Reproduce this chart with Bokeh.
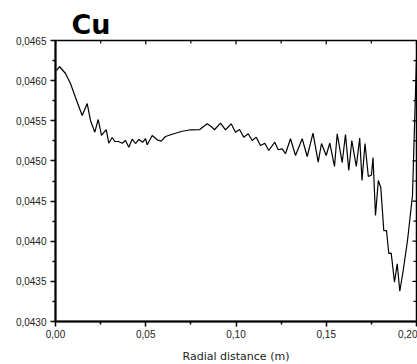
from bokeh.plotting import figure
from bokeh.models import FixedTicker, CustomJSTickFormatter
from bokeh.embed import file_html
from bokeh.resources import INLINE

title_text = "Cu"
x_label = "Radial distance (m)"

radial = [0.0005, 0.00222, 0.00554, 0.00831, 0.01108, 0.01479, 0.01756, 0.01939, 0.02177, 0.02366,
          0.02548, 0.02809, 0.02953, 0.03141, 0.03285, 0.03490, 0.03695, 0.03878, 0.04061, 0.04249,
          0.04432, 0.04615, 0.04837, 0.04986, 0.05080, 0.05357, 0.05634, 0.05856, 0.06094, 0.06554,
          0.07019, 0.07479, 0.07994, 0.08404, 0.08626, 0.08809, 0.09141, 0.09418, 0.09734, 0.09972,
          0.10194, 0.10432, 0.10676, 0.10898, 0.11119, 0.11357, 0.11596, 0.11817, 0.12149, 0.12338,
          0.12560, 0.12742, 0.13019, 0.13296, 0.13667, 0.13945, 0.14266, 0.14554, 0.14737, 0.14997,
          0.15197, 0.15457, 0.15607, 0.15884, 0.16066, 0.16249, 0.16416, 0.16665, 0.16853, 0.16981,
          0.17147, 0.17330, 0.17507, 0.17590, 0.17729, 0.17884, 0.18022, 0.18188, 0.18338, 0.18465,
          0.18598, 0.18781, 0.18931, 0.19075, 0.19263, 0.19501, 0.19778, 0.2000]
cu_value = [0.046126, 0.046176, 0.046089, 0.045964, 0.045790, 0.045566, 0.045715, 0.045504, 0.045358, 0.045516,
            0.045317, 0.045391, 0.045221, 0.045292, 0.045242, 0.045242, 0.045221, 0.045254, 0.045171, 0.045271,
            0.045217, 0.045267, 0.045233, 0.045279, 0.045201, 0.045317, 0.045263, 0.045246, 0.045304, 0.045338,
            0.045370, 0.045388, 0.045391, 0.045462, 0.045429, 0.045388, 0.045470, 0.045388, 0.045462, 0.045358,
            0.045391, 0.045296, 0.045338, 0.045254, 0.045296, 0.045192, 0.045221, 0.045130, 0.045233, 0.045139,
            0.045151, 0.045089, 0.045276, 0.045068, 0.045276, 0.045055, 0.045345, 0.044984, 0.045217, 0.045068,
            0.045223, 0.044931, 0.045338, 0.044980, 0.045329, 0.044881, 0.045254, 0.044931, 0.045286, 0.044756,
            0.045217, 0.044806, 0.044825, 0.045043, 0.044320, 0.044756, 0.044669, 0.044133, 0.044133, 0.043847,
            0.043851, 0.043489, 0.043719, 0.043377, 0.043635, 0.044009, 0.044569, 0.046276]

x_ticks = [0.0, 0.05, 0.10, 0.15, 0.20]
x_minor = [0.025, 0.075, 0.125, 0.175]
y_ticks = [0.0430, 0.0435, 0.0440, 0.0445, 0.0450, 0.0455, 0.0460, 0.0465]
y_minor = [0.04325, 0.04375, 0.04425, 0.04475, 0.04525, 0.04575, 0.04625]

x_lo, x_hi = 0.0, 0.2
y_lo, y_hi = 0.0430, 0.0465
fw, fh = 361, 281

p = figure(frame_width=fw, frame_height=fh, x_range=(x_lo, x_hi), y_range=(y_lo, y_hi),
           output_backend="svg", toolbar_location=None,
           min_border_left=55, min_border_right=1, min_border_top=40, min_border_bottom=43,
           background_fill_color="white", border_fill_color="white")
p.grid.visible = False
p.outline_line_color = "black"
p.outline_line_width = 1.5

p.title.text = title_text
p.title.text_font = "DejaVu Sans"
p.title.text_font_size = "27px"
p.title.text_font_style = "bold"
p.title.text_color = "black"
p.title.align = "left"
p.title.offset = 16
p.title.standoff = 1

xfmt = CustomJSTickFormatter(code="return tick.toFixed(2).replace('.', ',');")
yfmt = CustomJSTickFormatter(code="return tick.toFixed(4).replace('.', ',');")

for ax in p.xaxis:
    ax.ticker = FixedTicker(ticks=x_ticks, minor_ticks=x_minor)
    ax.formatter = xfmt
    ax.axis_label = x_label
    ax.axis_label_text_font = "DejaVu Sans"
    ax.axis_label_text_font_size = "11px"
    ax.axis_label_text_font_style = "normal"
    ax.axis_label_text_color = "#222222"
    ax.axis_label_standoff = 9
    ax.major_label_text_font = "Liberation Sans"
    ax.major_label_text_font_size = "10px"
    ax.major_label_text_color = "#222222"
    ax.major_label_standoff = 3
for ax in p.yaxis:
    ax.ticker = FixedTicker(ticks=y_ticks, minor_ticks=y_minor)
    ax.formatter = yfmt
    ax.major_label_text_font = "Liberation Sans"
    ax.major_label_text_font_size = "10px"
    ax.major_label_text_color = "#222222"
    ax.major_label_standoff = 4

for ax in list(p.xaxis) + list(p.yaxis):
    ax.axis_line_width = 2
    ax.axis_line_color = "black"
    ax.major_tick_line_color = "black"
    ax.minor_tick_line_color = "black"
    ax.major_tick_line_width = 1.5
    ax.minor_tick_line_width = 1.5
    ax.major_tick_in = 0
    ax.major_tick_out = 5
    ax.minor_tick_in = 0
    ax.minor_tick_out = 3

# inward ticks on the top and right frame edges
dy_major = 4 * (y_hi - y_lo) / fh
dy_minor = 3 * (y_hi - y_lo) / fh
dx_major = 4 * (x_hi - x_lo) / fw
dx_minor = 3 * (x_hi - x_lo) / fw
tx = x_ticks + x_minor
p.segment(x0=tx, x1=tx, y0=[y_hi] * len(tx),
          y1=[y_hi - dy_major] * len(x_ticks) + [y_hi - dy_minor] * len(x_minor),
          line_color="black", line_width=1.2)
ty = y_ticks + y_minor
p.segment(x0=[x_hi] * len(ty), x1=[x_hi - dx_major] * len(y_ticks) + [x_hi - dx_minor] * len(y_minor),
          y0=ty, y1=ty, line_color="black", line_width=1.2)

p.line(radial, cu_value, line_color="black", line_width=1.2)

open("out.html", "w").write(file_html(p, INLINE))
